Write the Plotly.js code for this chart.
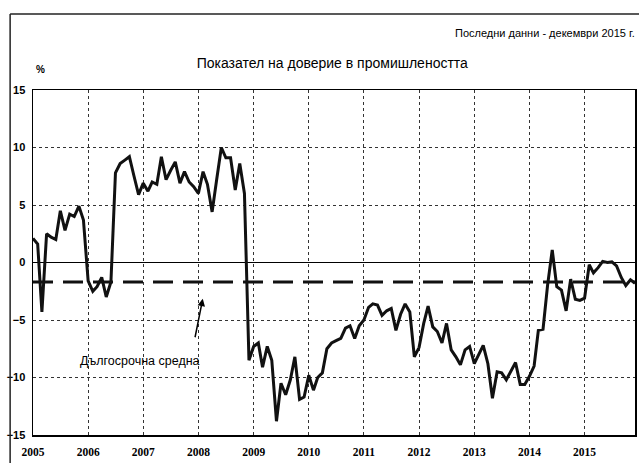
<!DOCTYPE html>
<html>
<head>
<meta charset="utf-8">
<script src="https://cdn.plot.ly/plotly-3.0.1.min.js"></script>
<style>html,body{margin:0;padding:0;background:#fff;}#chart{width:639px;height:463px;}</style>
</head>
<body>
<div id="chart"></div>
<script>
// Industrial confidence indicator, monthly, %
const years = [2005, 2006, 2007, 2008, 2009, 2010, 2011, 2012, 2013, 2014, 2015];
const values2005 = [2.1, 1.6, -4.3, 2.5, 2.2, 2.0, 4.5, 2.8, 4.2, 4.0, 4.9, 3.7];
const values2006 = [-1.6, -2.5, -2.1, -1.3, -3.0, -1.7, 7.8, 8.6, 8.9, 9.2, 7.5, 5.9];
const values2007 = [6.9, 6.2, 7.0, 6.8, 9.2, 7.2, 8.0, 8.75, 6.9, 7.9, 7.0, 6.6];
const values2008 = [6.0, 7.9, 6.8, 4.4, 7.2, 10.0, 9.1, 9.1, 6.3, 8.6, 6.0, -8.5];
const values2009 = [-7.3, -7.0, -9.1, -7.3, -8.5, -13.8, -10.5, -11.5, -10.2, -8.2, -11.9, -11.7];
const values2010 = [-9.8, -11.1, -10.0, -9.6, -7.5, -7.0, -6.8, -6.6, -5.7, -5.5, -6.6, -5.5];
const values2011 = [-5.0, -3.9, -3.6, -3.7, -4.6, -4.2, -4.0, -5.9, -4.5, -3.6, -4.3, -8.2];
const values2012 = [-7.4, -5.3, -3.8, -5.6, -6.0, -7.0, -5.3, -7.6, -8.2, -8.9, -7.6, -7.3];
const values2013 = [-8.8, -7.9, -7.2, -8.8, -11.8, -9.5, -9.6, -10.2, -9.4, -8.7, -10.6, -10.6];
const values2014 = [-9.9, -9.0, -5.9, -5.8, -2.0, 1.1, -2.1, -2.4, -4.2, -1.45, -3.2, -3.3];
const values2015 = [-3.1, -0.2, -0.9, -0.45, 0.1, 0.0, 0.05, -0.3, -1.3, -2.0, -1.5, -1.8];
const longTermAverage = -1.7;

const yearValues = [values2005, values2006, values2007, values2008, values2009, values2010,
                    values2011, values2012, values2013, values2014, values2015];

const titleText = 'Показател на доверие в промишлеността';
const noteText = 'Последни данни - декември 2015 г.';
const avgLabel = 'Дългосрочна средна';
const unitLabel = '%';

const dates = [];
const vals = [];
years.forEach((yr, i) => {
  yearValues[i].forEach((v, m) => {
    dates.push(yr + '-' + String(m + 1).padStart(2, '0') + '-01');
    vals.push(v);
  });
});
const firstDate = dates[0];
const lastDate = dates[dates.length - 1];

const traces = [
  {
    x: dates, y: vals, type: 'scatter', mode: 'lines',
    line: {color: '#111', width: 3}, hoverinfo: 'x+y'
  },
  {
    x: [firstDate, lastDate], y: [longTermAverage, longTermAverage],
    type: 'scatter', mode: 'lines',
    line: {color: '#111', width: 3, dash: '20px,10px'}
  }
];

const layout = {
  width: 639, height: 463,
  margin: {l: 33, r: 4, t: 90, b: 28},
  paper_bgcolor: '#fff', plot_bgcolor: '#fff',
  showlegend: false,
  font: {family: 'Liberation Sans, Arial, sans-serif', color: '#000'},
  title: {
    text: titleText, x: 0.52, xanchor: 'center', y: 0.864, yanchor: 'middle',
    font: {size: 14, family: 'Liberation Sans, Arial, sans-serif', color: '#000'}
  },
  xaxis: {
    type: 'date', range: [firstDate, lastDate],
    tick0: '2005-01-01', dtick: 'M12', tickformat: '%Y',
    showgrid: true, gridcolor: '#333', gridwidth: 1, griddash: 'dot',
    showline: true, mirror: true, linecolor: '#000', linewidth: 1.5,
    ticks: '', zeroline: false, ticklabelstandoff: 6,
    tickfont: {family: 'Liberation Serif, Times New Roman, serif', size: 11.5, color: '#000', weight: 'bold'}
  },
  yaxis: {
    range: [-15, 15], dtick: 5, tick0: 0,
    showgrid: true, gridcolor: '#333', gridwidth: 1, griddash: 'dot',
    showline: true, mirror: true, linecolor: '#000', linewidth: 1.5,
    zeroline: true, zerolinecolor: '#000', zerolinewidth: 1.5,
    ticks: '', ticklabelstandoff: 4,
    tickfont: {family: 'Liberation Sans, Arial, sans-serif', size: 11, color: '#000', weight: 'bold'}
  },
  annotations: [
    {xref: 'paper', yref: 'paper', x: 1.004, y: 1.165, xanchor: 'right', yanchor: 'middle',
     text: noteText, showarrow: false, font: {size: 11, color: '#000'}},
    {xref: 'paper', yref: 'paper', x: 0.012, y: 1.058, xanchor: 'center', yanchor: 'middle',
     text: unitLabel, showarrow: false, font: {size: 10, color: '#000', weight: 'bold'}},
    {xref: 'paper', yref: 'y', x: 0.178, y: -8.6, xanchor: 'center', yanchor: 'middle',
     text: avgLabel, showarrow: false, font: {size: 12.5, color: '#000'}},
    {xref: 'paper', yref: 'y', x: 0.282, y: -3.15, text: '', showarrow: true,
     arrowhead: 2, arrowsize: 1, arrowwidth: 1.5, arrowcolor: '#000', ax: -8, ay: 40}
  ],
  shapes: [
    {type: 'line', xref: 'paper', yref: 'paper', x0: -0.038, x1: 1.01, y0: 1.22, y1: 1.22,
     line: {color: '#222', width: 1.5}},
    {type: 'line', xref: 'paper', yref: 'paper', x0: -0.038, x1: -0.038, y0: 1.22, y1: -0.09,
     line: {color: '#222', width: 1.5}}
  ]
};

Plotly.newPlot('chart', traces, layout, {displayModeBar: false, staticPlot: true});
</script>
</body>
</html>
